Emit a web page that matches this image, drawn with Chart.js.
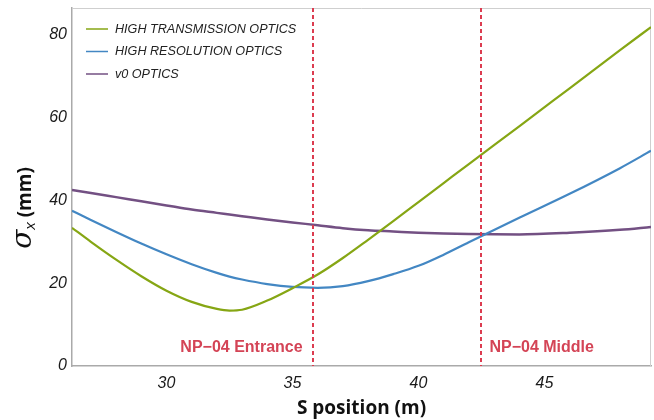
<!DOCTYPE html>
<html>
<head>
<meta charset="utf-8">
<script src="https://cdn.jsdelivr.net/npm/chart.js@4.4.1/dist/chart.umd.min.js"></script>
<style>
  html, body { margin: 0; padding: 0; background: #fff; }
  #wrap { width: 654px; height: 420px; }
</style>
</head>
<body>
<div id="wrap"><canvas id="sigmaChart" width="654" height="420"></canvas></div>
<script>
// beam size along S, sampled positions (m)
const sPos = [26.25, 27, 28, 29, 30, 31, 32, 32.5, 33, 34, 35, 36, 37, 38, 39, 40, 41, 42, 44, 46, 48, 49.23];
const highTransmission = [33.4, 30.0, 25.7, 21.7, 18.2, 15.5, 13.8, 13.4, 13.6, 15.8, 18.8, 22.1, 26.1, 30.5, 35.0, 39.6, 44.2, 48.8, 57.9, 67.1, 76.3, 81.9];
const highResolution = [37.5, 35.3, 32.4, 29.6, 27.0, 24.6, 22.5, 21.6, 20.9, 19.8, 19.1, 18.9, 19.3, 20.5, 22.2, 24.2, 26.9, 29.9, 35.8, 41.6, 47.8, 52.0];
const v0Optics = [42.5, 41.8, 40.8, 39.8, 38.8, 37.8, 37.0, 36.6, 36.2, 35.4, 34.7, 34.0, 33.3, 32.8, 32.5, 32.2, 32.0, 31.9, 31.8, 32.2, 32.9, 33.6];

const seriesNames = ["HIGH TRANSMISSION OPTICS", "HIGH RESOLUTION OPTICS", "v0 OPTICS"];
const seriesColors = ["#86a614", "#4387c3", "#735083"];

const xTicks = [30, 35, 40, 45];
const yTicks = [0, 20, 40, 60, 80];

// detector markers
const markerPos = [35.8, 42.5];
const markerLabels = ["NP\u221204 Entrance", "NP\u221204 Middle"];

function toPoints(ys) {
  return ys.map((y, i) => ({ x: sPos[i], y: y }));
}

const extras = {
  id: "extras",
  beforeDatasetsDraw(chart) {
    const { ctx, chartArea: a } = chart;
    ctx.save();
    // light frame on top and right
    ctx.strokeStyle = "#cfcfcf";
    ctx.lineWidth = 1;
    ctx.beginPath();
    ctx.moveTo(a.left, a.top + 0.5);
    ctx.lineTo(a.right - 0.5, a.top + 0.5);
    ctx.lineTo(a.right - 0.5, a.bottom);
    ctx.stroke();
    ctx.restore();
  },
  afterDatasetsDraw(chart) {
    const { ctx, chartArea: a, scales } = chart;
    ctx.save();
    // dashed vertical markers
    ctx.strokeStyle = "#dc3c50";
    ctx.lineWidth = 2;
    ctx.setLineDash([4, 3]);
    markerPos.forEach((s) => {
      const px = Math.round(scales.x.getPixelForValue(s));
      ctx.beginPath();
      ctx.moveTo(px, a.top);
      ctx.lineTo(px, a.bottom);
      ctx.stroke();
    });
    ctx.setLineDash([]);

    // marker labels
    ctx.fillStyle = "#d44456";
    ctx.font = "bold 16px 'Liberation Sans', Arial, sans-serif";
    ctx.textBaseline = "middle";
    const p0 = scales.x.getPixelForValue(markerPos[0]);
    const p1 = scales.x.getPixelForValue(markerPos[1]);
    ctx.textAlign = "right";
    ctx.fillText(markerLabels[0], p0 - 10, 348);
    ctx.textAlign = "left";
    ctx.fillText(markerLabels[1], p1 + 8, 348);

    // legend inside the plot
    ctx.font = "italic 12.6px 'Liberation Sans', Arial, sans-serif";
    ctx.textAlign = "left";
    seriesNames.forEach((name, i) => {
      const y = a.top + 21 + i * 22.5;
      ctx.strokeStyle = seriesColors[i];
      ctx.lineWidth = 1.5;
      ctx.beginPath();
      ctx.moveTo(a.left + 14, y);
      ctx.lineTo(a.left + 36, y);
      ctx.stroke();
      ctx.fillStyle = "#222";
      ctx.fillText(name, a.left + 43, y);
    });

    // y axis title: sigma_x (mm)
    ctx.translate(24, 208);
    ctx.rotate(-Math.PI / 2);
    ctx.fillStyle = "#111";
    ctx.textBaseline = "alphabetic";
    const fSig = "italic 28px 'DejaVu Serif', serif";
    const fSub = "italic 15px 'Liberation Sans', Arial, sans-serif";
    const fUnit = "bold 19px 'Open Sans', 'Liberation Sans', sans-serif";
    ctx.font = fSig; const wSig = ctx.measureText("\u03c3").width;
    ctx.font = fSub; const wSub = ctx.measureText("x").width;
    ctx.font = fUnit; const wUnit = ctx.measureText(" (mm)").width;
    let x0 = -(wSig + wSub + wUnit) / 2;
    ctx.font = fSig; ctx.fillText("\u03c3", x0, 7); x0 += wSig;
    ctx.font = fSub; ctx.fillText("x", x0, 11); x0 += wSub;
    ctx.font = fUnit; ctx.fillText(" (mm)", x0, 7);
    ctx.restore();
  }
};

const tickFont = { family: "'Liberation Sans', Arial, sans-serif", size: 16, style: "italic" };

new Chart(document.getElementById("sigmaChart").getContext("2d"), {
  type: "line",
  data: {
    datasets: [highTransmission, highResolution, v0Optics].map((ys, i) => ({
      label: seriesNames[i],
      data: toPoints(ys),
      borderColor: seriesColors[i],
      borderWidth: i === 2 ? 2.5 : 2.2,
      pointRadius: 0,
      fill: false,
      cubicInterpolationMode: "monotone"
    }))
  },
  options: {
    responsive: false,
    animation: false,
    layout: { padding: { left: 0, right: 3, top: 8, bottom: 0 } },
    plugins: { legend: { display: false }, tooltip: { enabled: false } },
    scales: {
      x: {
        type: "linear",
        min: 26.25,
        max: 49.23,
        afterBuildTicks: (s) => { s.ticks = xTicks.map((v) => ({ value: v })); },
        afterFit: (s) => { s.height = 54; s.paddingLeft = 0; s.paddingRight = 0; },
        grid: { display: false, drawTicks: false },
        border: { display: true, color: "#aaa", width: 1.5 },
        ticks: { font: tickFont, color: "#1a1a1a", padding: 8 },
        title: {
          display: true,
          text: "S position (m)",
          color: "#111",
          font: { family: "'Open Sans', 'Liberation Sans', sans-serif", size: 19, weight: "bold" },
          padding: { top: 0, bottom: 0 }
        }
      },
      y: {
        min: 0,
        max: 86.5,
        afterBuildTicks: (s) => { s.ticks = yTicks.map((v) => ({ value: v })); },
        afterFit: (s) => { s.width = 72; s.paddingTop = 0; s.paddingBottom = 0; },
        grid: { display: false, drawTicks: false },
        border: { display: true, color: "#aaa", width: 1.5 },
        ticks: { font: tickFont, color: "#1a1a1a", padding: 5 }
      }
    }
  },
  plugins: [extras]
});
</script>
</body>
</html>
